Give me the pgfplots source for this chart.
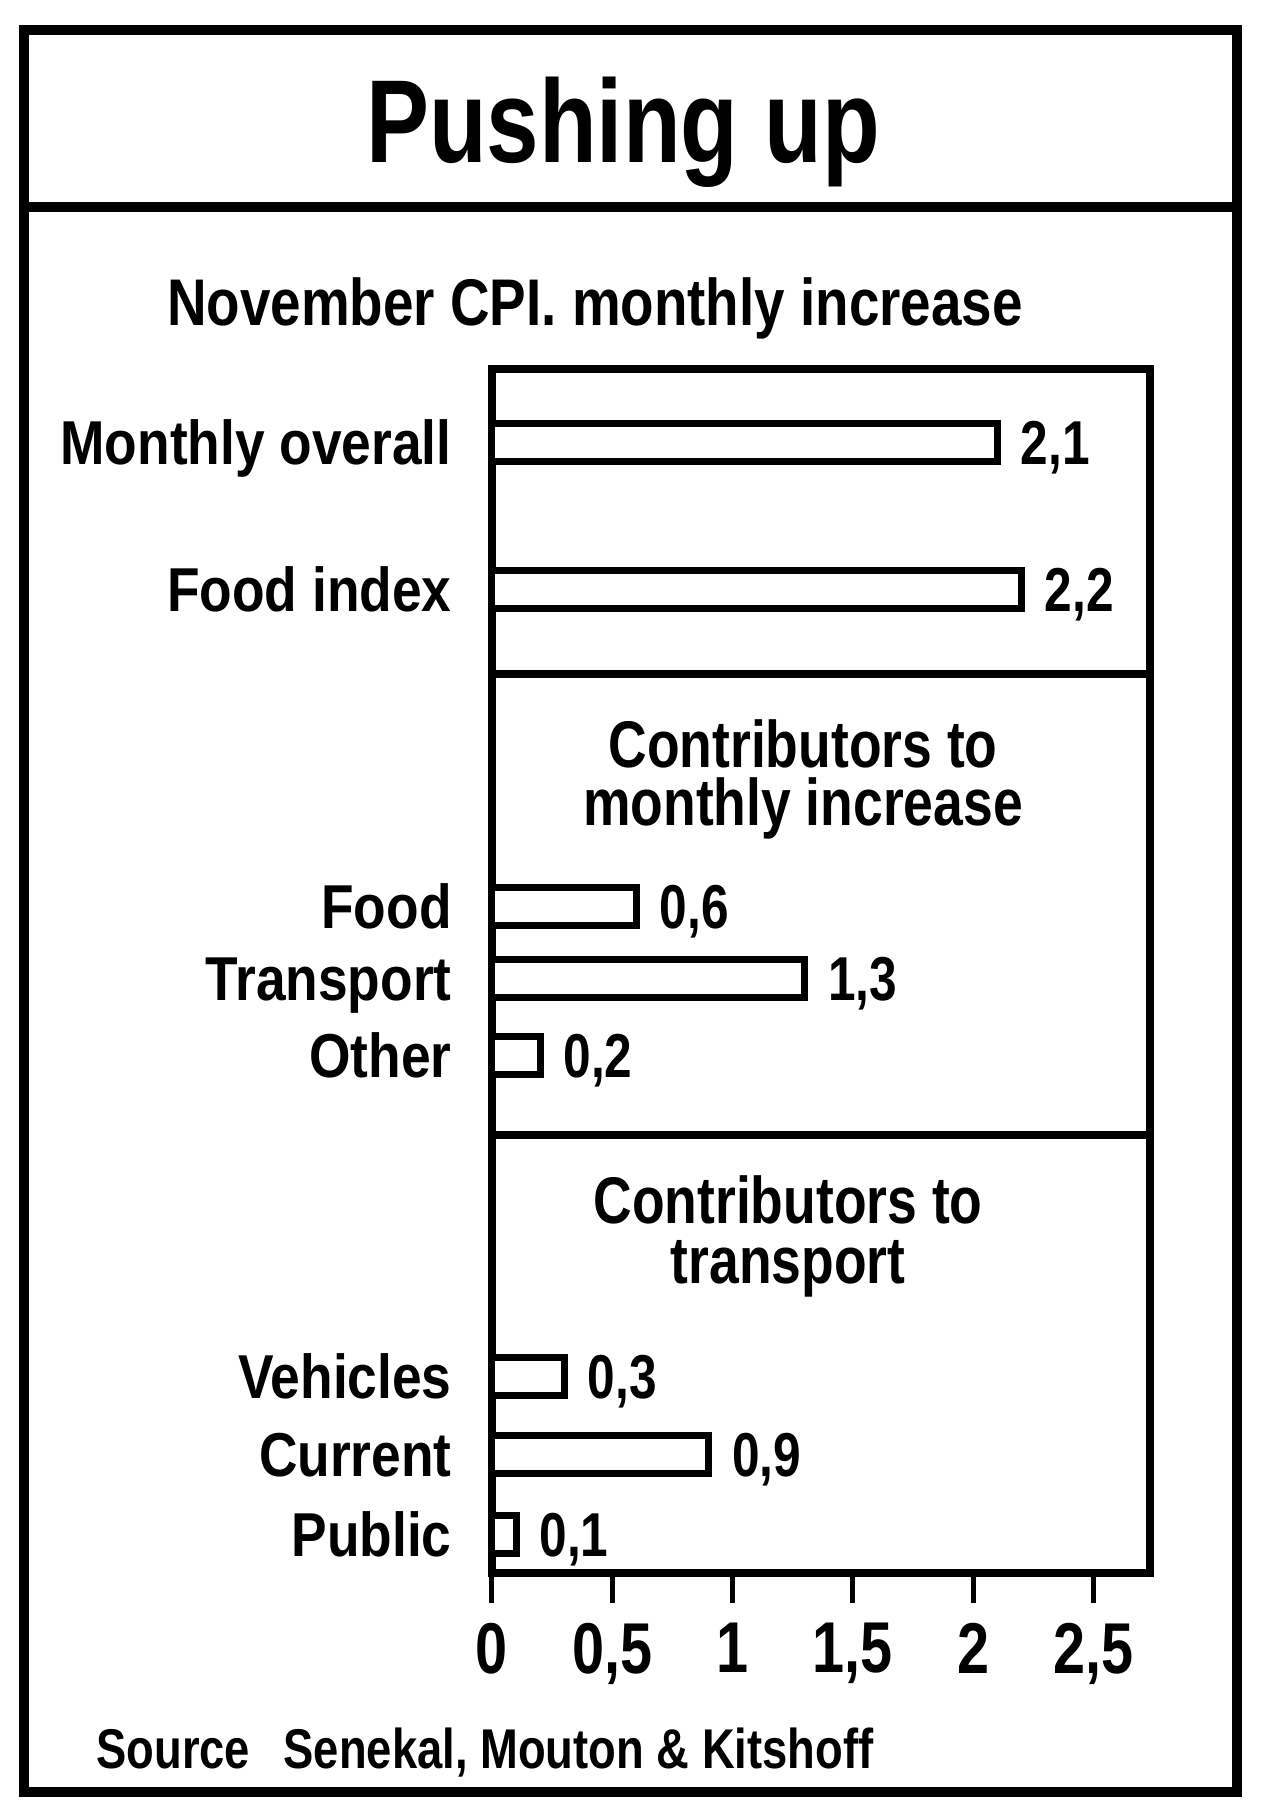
\documentclass[border=0pt]{standalone}
\usepackage{pgfplots}
\pgfplotsset{compat=1.18}
\usepackage{fontspec}
\setmainfont{Liberation Sans}
\newfontfamily\titlefont[FakeStretch=0.8]{Liberation Sans}
\newfontfamily\subfont[FakeStretch=0.83]{Liberation Sans}
\newfontfamily\headfont[FakeStretch=0.81]{Liberation Sans}
\newfontfamily\lblfont[FakeStretch=0.86]{Liberation Sans}
\newfontfamily\numfont[FakeStretch=0.8]{Liberation Sans}
\begin{document}
\begin{tikzpicture}[x=0.5pt,y=-0.5pt]
\useasboundingbox (0,0) rectangle (1272,1810);
% outer frame and title box
\draw[line width=5pt] (24,30) rectangle (1237,1792);
\draw[line width=5pt] (24,207) -- (1237,207);
\node[anchor=base,inner sep=0pt,font=\titlefont\bfseries\fontsize{59}{59}\selectfont] at (623,162) {Pushing up};
\node[anchor=base,inner sep=0pt,font=\subfont\bfseries\fontsize{33}{33}\selectfont] at (595,325) {November CPI. monthly increase};
\begin{axis}[
  at={(246pt,-786.5pt)}, anchor=south west,
  scale only axis, width=329pt, height=602pt,
  xmin=0, xmax=2.735, ymin=0, ymax=1204,
  axis line style={line width=4pt, line cap=rect},
  xtick={0,0.5,1,1.5,2,2.5},
  xticklabels={0,{0,5},1,{1,5},2,{2,5}},
  xtick pos=bottom, tick align=outside,
  x tick style={line width=2.5pt, black},
  major tick length=15pt,
  xticklabel style={font=\numfont\bfseries\fontsize{36}{36}\selectfont, inner sep=0pt, anchor=north, yshift=-10pt},
  ytick={39,119,197,518,595,667,984,1131},
  yticklabels={Public,Current,Vehicles,Other,Transport,Food,Food index,Monthly overall},
  y tick style={draw=none},
  yticklabel style={font=\lblfont\bfseries\fontsize{31}{31}\selectfont, inner sep=0pt, anchor=base east, xshift=-5pt, yshift=-11pt},
  clip=false,
]
\addplot[xbar, fill=white, draw=black, line width=3.5pt, bar width=19pt,
  point meta=x,
  nodes near coords={\pgfmathprintnumber[fixed,fixed zerofill,precision=1,use comma,assume math mode=true]{\pgfplotspointmeta}},
  nodes near coords style={anchor=base west, inner sep=0pt, xshift=10pt, yshift=-11pt, font=\numfont\bfseries\fontsize{31}{31}\selectfont}]
  coordinates {(2.1,1131) (2.2,984) (0.6,667) (1.3,595) (0.2,518) (0.3,197) (0.9,119) (0.1,39)};
\draw[line width=4pt] (axis cs:0,899) -- (axis cs:2.735,899);
\draw[line width=4pt] (axis cs:0,438) -- (axis cs:2.735,438);
\end{axis}
\node[anchor=base,inner sep=0pt,font=\headfont\bfseries\fontsize{33}{33}\selectfont] at (803,767) {Contributors to};
\node[anchor=base,inner sep=0pt,font=\headfont\bfseries\fontsize{33}{33}\selectfont] at (803,825) {monthly increase};
\node[anchor=base,inner sep=0pt,font=\headfont\bfseries\fontsize{33}{33}\selectfont] at (788,1223) {Contributors to};
\node[anchor=base,inner sep=0pt,font=\headfont\bfseries\fontsize{33}{33}\selectfont] at (788,1283) {transport};
\node[anchor=base west,inner sep=0pt,font=\headfont\bfseries\fontsize{28}{28}\selectfont] at (96,1768) {Source\hspace{0.6em}Senekal, Mouton \& Kitshoff};
\end{tikzpicture}
\end{document}
